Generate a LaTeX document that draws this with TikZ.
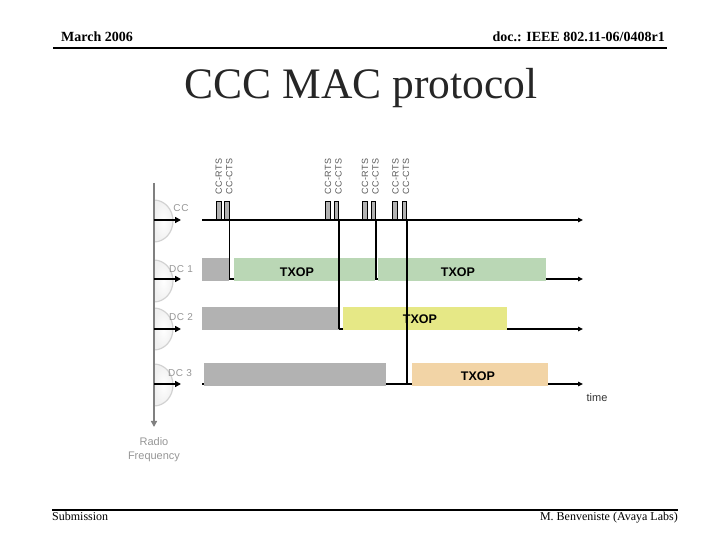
\documentclass[tikz,border=0pt]{standalone}
\usepackage{fontspec}
\setmainfont{Liberation Serif}
\newfontfamily\diagfont{Liberation Sans}
\newfontfamily\spacedfont[LetterSpace=6]{Liberation Sans}
\usetikzlibrary{arrows.meta,positioning}
\definecolor{busygray}{RGB}{178,178,178}
\definecolor{txopgreen}{RGB}{186,215,181}
\definecolor{txopyellow}{RGB}{230,232,134}
\definecolor{txoporange}{RGB}{242,212,166}
\definecolor{chanlabel}{RGB}{150,150,150}
\definecolor{rfgray}{RGB}{128,128,128}

\begin{document}
\begin{tikzpicture}[x=1pt,y=1pt,
  every node/.style={inner sep=0pt},
  slot/.style={draw=none,minimum height=23pt,anchor=south west},
  pulse/.style={draw=black,line width=0.8pt,fill=busygray,minimum width=4.5pt,minimum height=18pt,anchor=south},
  axis/.style={line width=1.6pt,-{Triangle[length=5pt,width=4.5pt]}},
  feed/.style={line width=1.8pt,-{Triangle[length=6pt,width=6pt]}},
  sig/.style={line width=1.6pt},
  chan/.style={font=\spacedfont\fontsize{10}{12}\selectfont,text=chanlabel},
  ctrl/.style={font=\spacedfont\fontsize{9}{10.5}\selectfont,text=black!65,rotate=90,anchor=west,align=center},
  txop/.style={font=\diagfont\bfseries\fontsize{12.5}{14}\selectfont},
  lobe/.style={draw=gray!35,line width=1.2pt,inner color=white,outer color=gray!12}]
\useasboundingbox (0,0) rectangle (720,540);

\node[anchor=base west,font=\bfseries\fontsize{14}{16}\selectfont] (date) at (61,498) {March 2006};
\node[anchor=base east,font=\bfseries\fontsize{14}{16}\selectfont] (docno) at (665,498) {doc.: IEEE 802.11-06/0408r1};
\coordinate (hl) at (53,492);
\coordinate (hr) at (667,492);
\draw[line width=2.2pt] (hl) -- (hr);

\node[anchor=base,font=\fontsize{43.5}{48}\selectfont,text=black!85] (title) at (361,441) {CCC MAC protocol};

\foreach \yc in {319,259,211,155}
  \draw[lobe] (154,\yc+21) arc[start angle=90,end angle=-90,x radius=19,y radius=21] -- cycle;

\coordinate (rf-top) at (154,357);
\coordinate (rf-bot) at (154,113);
\draw[rfgray,line width=1.8pt,-{Triangle[length=6pt,width=6pt]}] (rf-top) -- (rf-bot);

\foreach \n/\yc in {cc/320,d1/261,d2/211,d3/156} {
  \coordinate (\n-in) at (154,\yc);
  \coordinate (\n-tip) at (181,\yc);
  \coordinate (\n-s) at (202,\yc);
  \coordinate (\n-e) at (583,\yc);
}
\foreach \n in {cc,d1,d2,d3} {
  \draw[feed] (\n-in) -- (\n-tip);
  \draw[axis] (\n-s) -- (\n-e);
}

\node[chan] (cc-lbl) at (181,332) {CC};
\node[chan] (d1-lbl) at (181,271) {DC 1};
\node[chan] (d2-lbl) at (181,223) {DC 2};
\node[chan] (d3-lbl) at (180,167) {DC 3};

\node[slot,fill=busygray,minimum width=27pt] (d1-busy) at (202,259) {};
\node[slot,fill=txopgreen,minimum width=141pt] (d1-txa) at (234,259) {};
\node[slot,fill=txopgreen,minimum width=168pt] (d1-txb) at (378,259) {};
\node[slot,fill=busygray,minimum width=137pt] (d2-busy) at (202,210) {};
\node[slot,fill=txopyellow,minimum width=164pt] (d2-tx) at (343,210) {};
\node[slot,fill=busygray,minimum width=182pt] (d3-busy) at (204,154) {};
\node[slot,fill=txoporange,minimum width=136pt] (d3-tx) at (412,154) {};

\foreach \k/\xr/\xc in {1/219/227,2/328/336.5,3/365/373.5,4/395/404.5} {
  \node[pulse] (rts\k) at (\xr,320) {};
  \node[pulse] (cts\k) at (\xc,320) {};
  \node[ctrl] (ctl\k) at (\xr/2+\xc/2+1,345) {CC-RTS\\CC-CTS};
}

\draw[sig] (cts1.south east) -- (cts1.south east |- d1-s);
\draw[sig] (cts2.south east) -- (cts2.south east |- d2-s);
\draw[sig] (cts3.south east) -- (cts3.south east |- d1-s);
\draw[sig] (cts4.south east) -- (cts4.south east |- d3-s);

\node[txop] (d1-txt-a) at (297,268) {TXOP};
\node[txop] (d1-txt-b) at (458,268) {TXOP};
\node[txop] (d2-txt) at (420,221) {TXOP};
\node[txop] (d3-txt) at (478,164) {TXOP};

\node[font=\diagfont\fontsize{11}{13}\selectfont,text=black!80] (time) at (597,142) {time};
\node[font=\diagfont\fontsize{11}{14}\selectfont,text=chanlabel,align=center] (rf) at (154,90) {Radio\\Frequency};

\coordinate (fl) at (52,30);
\coordinate (fr) at (678,30);
\draw[line width=2.2pt] (fl) -- (fr);
\node[anchor=base west,font=\fontsize{12}{14}\selectfont] (sub) at (52,19) {Submission};
\node[anchor=base east,font=\fontsize{12}{14}\selectfont] (auth) at (678,19) {M. Benveniste (Avaya Labs)};
\end{tikzpicture}
\end{document}
